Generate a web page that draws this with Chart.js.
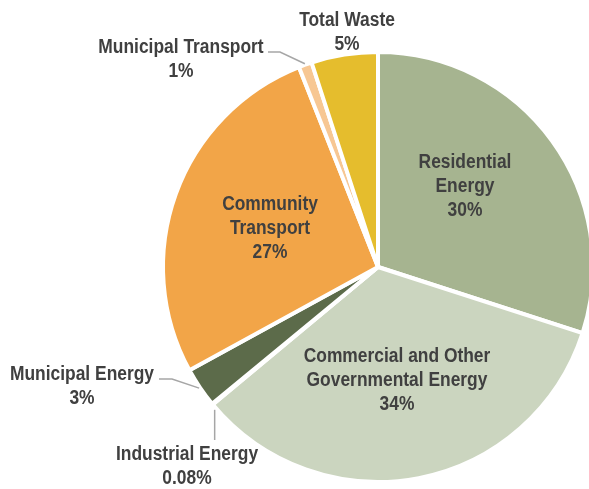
<!DOCTYPE html>
<html>
<head>
<meta charset="utf-8">
<script src="https://cdn.jsdelivr.net/npm/chart.js@4.4.0/dist/chart.umd.min.js"></script>
<style>
  html, body { margin: 0; padding: 0; background: #fff; overflow: hidden; }
  #wrap { width: 600px; height: 489px; }
</style>
</head>
<body>
<div id="wrap"><canvas id="pie" width="600" height="489"></canvas></div>
<script>
// ---------------- DATA ----------------
const categories = [
  "Residential\nEnergy",
  "Commercial and Other\nGovernmental Energy",
  "Industrial Energy",
  "Municipal Energy",
  "Community\nTransport",
  "Municipal Transport",
  "Total Waste"
];
const shares = [30, 34, 0.08, 3, 27, 1, 5];
const colors = ["#a6b490", "#cbd5bf", "#c9d3bd", "#5c6b4a", "#f2a548", "#f7c793", "#e5bd2d"];

// ---------------- LABEL LAYOUT ----------------
// x/y = centre of first text line; leader = knee points, last segment runs to the arc
const labelLayout = [
  { x: 465, y: 162 },
  { x: 397, y: 356 },
  { x: 187, y: 454, leader: "down" },
  { x: 82, y: 374, leader: [[159, 379], [172, 379]] },
  { x: 270, y: 204 },
  { x: 181, y: 47, leader: [[268, 52], [280, 52]] },
  { x: 347, y: 20 }
];

// condensed bold look: Liberation Sans Bold squeezed horizontally
const FONT = 'bold 20px "Liberation Sans", Arial, sans-serif';
const SQUEEZE = 0.87;
const LINE_H = 24;

const pieLabels = {
  id: "pieLabels",
  afterDatasetsDraw(chart) {
    const ctx = chart.ctx;
    const arcs = chart.getDatasetMeta(0).data;
    ctx.save();
    arcs.forEach((arc, i) => {
      const lay = labelLayout[i];
      const { x: cx, y: cy, startAngle, endAngle, outerRadius } = arc.getProps(["x", "y", "startAngle", "endAngle", "outerRadius"], true);
      const mid = (startAngle + endAngle) / 2;
      const ex = cx + Math.cos(mid) * (outerRadius + 1);
      const ey = cy + Math.sin(mid) * (outerRadius + 1);

      // leader line
      if (lay.leader) {
        ctx.strokeStyle = "#a6a6a6";
        ctx.lineWidth = 1.5;
        ctx.beginPath();
        if (lay.leader === "down") {
          ctx.moveTo(ex + 3, ey + 5);
          ctx.lineTo(ex + 3, 440);
        } else {
          ctx.moveTo(lay.leader[0][0], lay.leader[0][1]);
          lay.leader.slice(1).forEach(p => ctx.lineTo(p[0], p[1]));
          ctx.lineTo(ex, ey);
        }
        ctx.stroke();
      }

      // text
      const lines = categories[i].split("\n").concat(shares[i] + "%");
      ctx.font = FONT;
      ctx.fillStyle = "#404040";
      ctx.textAlign = "center";
      ctx.textBaseline = "middle";
      lines.forEach((t, k) => {
        ctx.save();
        ctx.translate(lay.x, lay.y + k * LINE_H);
        ctx.scale(SQUEEZE, 1);
        ctx.fillText(t, 0, 0);
        ctx.restore();
      });
    });
    ctx.restore();
  }
};

new Chart(document.getElementById("pie"), {
  type: "pie",
  data: {
    labels: categories,
    datasets: [{
      data: shares,
      backgroundColor: colors,
      borderColor: "#ffffff",
      borderWidth: 4,
      radius: 215
    }]
  },
  options: {
    responsive: false,
    animation: false,
    layout: { padding: { left: 162, top: 51, right: 6, bottom: 6 } },
    plugins: {
      legend: { display: false },
      tooltip: { enabled: false }
    }
  },
  plugins: [pieLabels]
});
</script>
</body>
</html>
